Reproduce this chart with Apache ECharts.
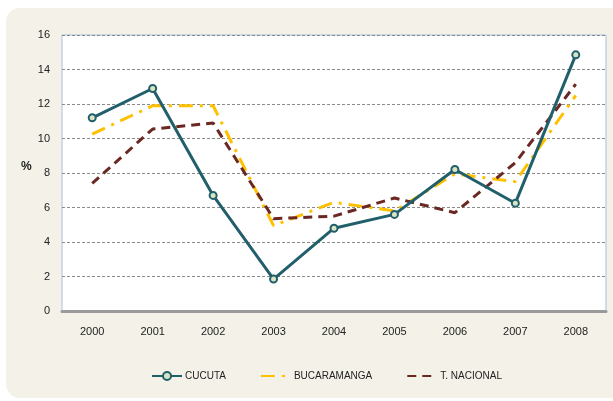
<!DOCTYPE html>
<html>
<head>
<meta charset="utf-8">
<script src="https://cdn.jsdelivr.net/npm/echarts@6/dist/echarts.min.js"></script>
<style>
  html, body { margin: 0; padding: 0; background: #ffffff; }
  #chart { width: 613px; height: 401px; }
</style>
</head>
<body>
<div id="chart"></div>
<script>
// años y series (%)
const years = ["2000", "2001", "2002", "2003", "2004", "2005", "2006", "2007", "2008"];
const cucuta = [11.2, 12.9, 6.7, 1.85, 4.8, 5.6, 8.2, 6.25, 14.85];
const bucaramanga = [10.25, 11.9, 11.9, 4.95, 6.3, 5.8, 7.95, 7.5, 12.5];
const nacional = [7.4, 10.55, 10.9, 5.35, 5.5, 6.55, 5.7, 8.6, 13.15];
const yTicks = [0, 2, 4, 6, 8, 10, 12, 14, 16];

const font = "'Liberation Sans Narrow', 'Liberation Sans', Arial, sans-serif";
const chart = echarts.init(document.getElementById("chart"), null, { renderer: "canvas" });

chart.setOption({
  animation: false,
  backgroundColor: "#ffffff",
  graphic: [
    {
      type: "rect",
      z: -10,
      shape: { x: 6, y: 8, width: 620, height: 390, r: 14 },
      style: { fill: "#f3f1e8" }
    },
    {
      type: "rect",
      z: -5,
      shape: { x: 62, y: 35, width: 544, height: 276 },
      style: { fill: "#ffffff", stroke: "#a9bfdc", lineWidth: 1 }
    },
    {
      type: "text",
      left: 21, top: 161,
      style: { text: "%", font: "bold 12px " + font, fill: "#222" }
    }
  ],
  grid: { left: 62, right: 7, top: 35, bottom: 90 },
  legend: {
    bottom: 15,
    left: 146,
    itemWidth: 30,
    itemHeight: 10,
    itemGap: 34,
    textStyle: { fontFamily: font, fontSize: 10, color: "#222", padding: [0, 0, 0, -2] },
    data: [
      { name: "CUCUTA" },
      { name: "BUCARAMANGA", itemStyle: { opacity: 0 } },
      { name: "T. NACIONAL", itemStyle: { opacity: 0 } }
    ]
  },
  xAxis: {
    type: "category",
    data: years,
    boundaryGap: true,
    axisLine: { lineStyle: { color: "#9a9a9a", width: 3 } },
    axisTick: { show: false },
    axisLabel: { margin: 15, fontFamily: font, fontSize: 11, color: "#222" }
  },
  yAxis: {
    type: "value",
    min: yTicks[0],
    max: yTicks[yTicks.length - 1],
    interval: 2,
    axisLine: { show: false },
    axisTick: { show: false },
    axisLabel: { margin: 12, fontFamily: font, fontSize: 11, color: "#222" },
    splitLine: { lineStyle: { color: "#8a8a8a", type: [3, 2], width: 1 } }
  },
  series: [
    {
      name: "BUCARAMANGA",
      type: "line",
      data: bucaramanga,
      symbol: "none",
      z: 2,
      lineStyle: { color: "#ffc000", width: 3, type: [14, 7, 3, 7] },
      itemStyle: { color: "#ffc000" }
    },
    {
      name: "T. NACIONAL",
      type: "line",
      data: nacional,
      symbol: "none",
      z: 3,
      lineStyle: { color: "#6b2823", width: 3, type: [9, 6] },
      itemStyle: { color: "#6b2823" }
    },
    {
      name: "CUCUTA",
      type: "line",
      data: cucuta,
      symbol: "circle",
      symbolSize: 7,
      z: 4,
      lineStyle: { color: "#215f6b", width: 3 },
      itemStyle: { color: "#d9e4c4", borderColor: "#215f6b", borderWidth: 2 }
    }
  ]
});
</script>
</body>
</html>
